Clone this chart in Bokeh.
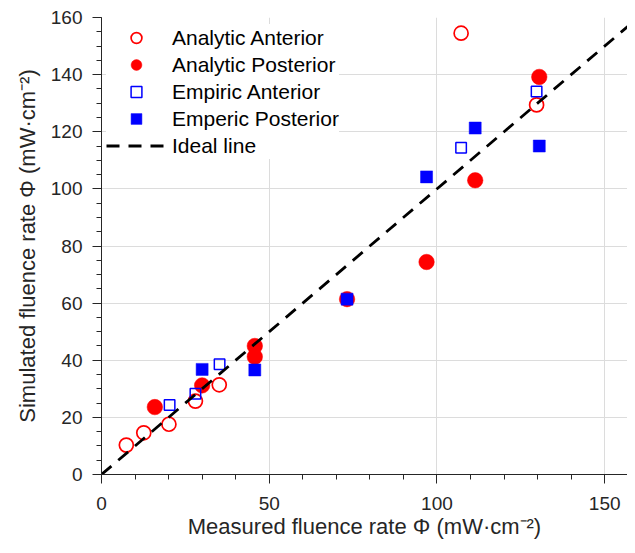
from bokeh.plotting import figure
from bokeh.models import Range1d, SingleIntervalTicker, Legend, LegendItem
from bokeh.embed import file_html
from bokeh.resources import INLINE

# Analytic Anterior (open red circles)
aa_x = [7.4, 12.6, 20.1, 28.0, 35.1, 107.2, 129.7]
aa_y = [10.3, 14.6, 17.6, 25.7, 31.4, 154.5, 129.4]
# Analytic Posterior (filled red circles)
ap_x = [15.9, 30.0, 45.7, 45.7, 73.2, 96.9, 111.4, 130.5]
ap_y = [23.6, 31.2, 45.0, 41.2, 61.4, 74.4, 103.0, 139.2]
# Empiric Anterior (open blue squares)
ea_x = [20.3, 28.0, 35.2, 107.2, 129.7]
ea_y = [24.3, 28.3, 38.6, 114.4, 134.1]
# Emperic Posterior (filled blue squares)
ep_x = [30.0, 45.7, 73.2, 96.9, 111.4, 130.5]
ep_y = [36.8, 36.6, 61.4, 104.2, 121.3, 115.0]
# Ideal line
ideal_x = [0, 160]
ideal_y = [0, 160]

legend_labels = ["Analytic Anterior", "Analytic Posterior", "Empiric Anterior",
                 "Emperic Posterior", "Ideal line"]
x_title = "Measured fluence rate \u03a6 (mW\u00b7cm\u207b\u00b2)"
y_title = "Simulated fluence rate \u03a6 (mW\u00b7cm\u207b\u00b2)"

FONT = "Liberation Sans"
AX = "#262626"
FRAME_H = 457

p = figure(width=627, height=545, output_backend="svg", toolbar_location=None,
           x_range=Range1d(0, 156.8), y_range=Range1d(0, 160),
           min_border_left=101, min_border_right=0, min_border_top=17, min_border_bottom=71)
p.outline_line_color = None
p.background_fill_color = "white"
p.border_fill_color = "white"

r_aa = p.scatter(aa_x, aa_y, marker="circle", size=14, fill_color=None,
                 line_color="#ff0000", line_width=1.7)
r_ap = p.scatter(ap_x, ap_y, marker="circle", size=15.5, fill_color="#ff0000",
                 line_color="#ff0000", line_width=0.5)
r_ea = p.scatter(ea_x, ea_y, marker="square", size=10.5, fill_color=None,
                 line_color="#0000ff", line_width=1.5)
r_ep = p.scatter(ep_x, ep_y, marker="square", size=12, fill_color="#0000ff",
                 line_color="#0000ff", line_width=0.5)
r_id = p.line(ideal_x, ideal_y, line_color="black", line_width=2.8, line_dash="13 9")

for ax, tk in ((p.xaxis, SingleIntervalTicker(interval=50, num_minor_ticks=5)),
               (p.yaxis, SingleIntervalTicker(interval=20, num_minor_ticks=4))):
    ax.ticker = tk
    ax.axis_line_color = AX
    ax.axis_line_width = 1
    ax.major_tick_line_color = AX
    ax.minor_tick_line_color = AX
    ax.major_tick_in = 0
    ax.major_tick_out = 9
    ax.minor_tick_in = 0
    ax.minor_tick_out = 5
    ax.major_label_text_font = FONT
    ax.major_label_text_font_size = "19px"
    ax.major_label_text_color = AX
    ax.axis_label_text_font = FONT
    ax.axis_label_text_font_size = "22px"
    ax.axis_label_text_font_style = "normal"
    ax.axis_label_text_color = AX

p.xaxis.major_label_standoff = 13
p.yaxis.major_label_standoff = 10
p.xaxis.axis_label = x_title
p.yaxis.axis_label = y_title
p.xaxis.axis_label_standoff = 1
p.yaxis.axis_label_standoff = 8

p.xgrid.grid_line_color = "#dcdcdc"
p.ygrid.grid_line_color = "#dcdcdc"

legend = Legend(items=[LegendItem(label=lab, renderers=[r]) for lab, r in
                       zip(legend_labels, [r_aa, r_ap, r_ea, r_ep, r_id])],
                location=(5, FRAME_H - 143 + 1))
legend.padding = 4
legend.spacing = 0
legend.margin = 0
legend.glyph_width = 60
legend.glyph_height = 27
legend.label_height = 27
legend.label_standoff = 6
legend.label_text_font = FONT
legend.label_text_font_size = "21px"
legend.label_text_color = "black"
legend.border_line_color = None
legend.background_fill_color = "white"
legend.background_fill_alpha = 1.0
p.add_layout(legend)

open("out.html", "w").write(file_html(p, INLINE))
